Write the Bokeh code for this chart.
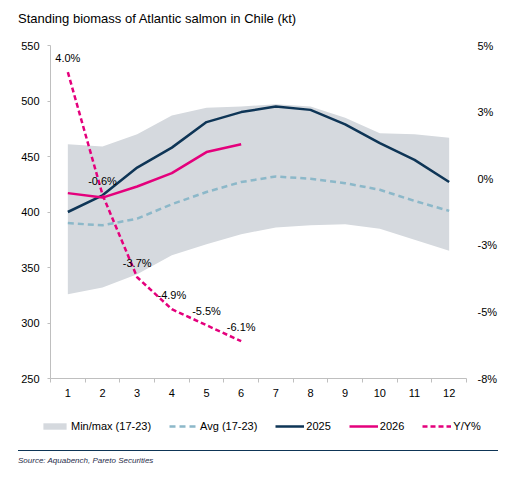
from bokeh.plotting import figure
from bokeh.models import (Range1d, LinearAxis, FixedTicker, Legend, LegendItem, Div, ColumnDataSource)
from bokeh.layouts import column
from bokeh.core.properties import value
from bokeh.embed import file_html
from bokeh.resources import INLINE

# ---- data ----
months = [1, 2, 3, 4, 5, 6, 7, 8, 9, 10, 11, 12]
band_min = [326, 332, 344, 361, 371, 380, 386, 388, 389, 385, 375, 365]
band_max = [461, 459, 470, 487, 494, 495, 497, 495, 485, 471, 470, 467]
avg_17_23 = [390, 388, 394, 407, 418, 427, 432, 430, 426, 420, 410, 401]
y2025 = [400, 415, 440, 458, 481, 490, 495, 492, 479, 462, 447, 427]
months_2026 = [1, 2, 3, 4, 5, 6]
y2026 = [417, 413, 423, 435, 454, 461]
yoy_pct = [4.0, -0.6, -3.7, -4.9, -5.5, -6.1]
left_ticks = [250, 300, 350, 400, 450, 500, 550]
right_ticks = [-7.5, -5.0, -2.5, 0.0, 2.5, 5.0]
right_tick_labels = ["-8%", "-5%", "-3%", "0%", "3%", "5%"]
series_names = ["Min/max (17-23)", "Avg (17-23)", "2025", "2026", "Y/Y%"]
title_text = "Standing biomass of Atlantic salmon in Chile (kt)"
source_text = "Source: Aquabench, Pareto Securities"

FONT = "Liberation Sans"
NAVY = "#0e3556"
PINK = "#e4007c"
LBLUE = "#8cb8c9"
BAND = "#d5d9de"
AXIS = "#bfbfbf"

title_div = Div(width=516, height=30, margin=0, text=(
    f'<div style="padding-top:12px;margin-left:18px;font-family:\'{FONT}\';'
    f'font-size:13px;line-height:1;color:#000;white-space:nowrap;">{title_text}</div>'))

p = figure(width=516, height=370, frame_width=416, frame_height=333,
           output_backend="svg", toolbar_location=None,
           x_range=Range1d(0.5, 12.5), y_range=Range1d(250, 550),
           min_border_left=50, min_border_right=50, min_border_top=15, min_border_bottom=22)
p.outline_line_color = None
p.xgrid.visible = False
p.ygrid.visible = False
p.background_fill_color = "white"

p.extra_y_ranges = {"pct": Range1d(-7.5, 5.0)}

# x axis
xa = p.xaxis[0]
xa.ticker = FixedTicker(ticks=months, minor_ticks=[m - 0.5 for m in months] + [12.5])
xa.axis_line_color = AXIS
xa.major_tick_line_color = None
xa.major_tick_out = 0
xa.major_tick_in = 0
xa.minor_tick_line_color = AXIS
xa.minor_tick_out = 4
xa.minor_tick_in = 0
xa.major_label_standoff = 6
xa.major_label_text_font = FONT
xa.major_label_text_font_size = "11px"
xa.major_label_text_color = "#000000"

# left axis
ya = p.yaxis[0]
ya.ticker = FixedTicker(ticks=left_ticks)
ya.axis_line_color = AXIS
ya.major_tick_line_color = AXIS
ya.major_tick_out = 3
ya.major_tick_in = 0
ya.minor_tick_line_color = None
ya.major_label_standoff = 8
ya.major_label_text_font = FONT
ya.major_label_text_font_size = "11px"
ya.major_label_text_color = "#000000"

# right axis
ra = LinearAxis(y_range_name="pct")
ra.ticker = FixedTicker(ticks=right_ticks)
ra.major_label_overrides = {t: l for t, l in zip(right_ticks, right_tick_labels)}
ra.axis_line_color = None
ra.major_tick_line_color = None
ra.minor_tick_line_color = None
ra.major_tick_out = 0
ra.major_tick_in = 0
ra.major_label_standoff = 11
ra.major_label_text_font = FONT
ra.major_label_text_font_size = "11px"
ra.major_label_text_color = "#000000"
p.add_layout(ra, "right")

band_style = dict(fill_color=BAND)
avg_style = dict(line_color=LBLUE, line_width=2.5, line_dash="6 4")
s25_style = dict(line_color=NAVY, line_width=2.5)
s26_style = dict(line_color=PINK, line_width=2.5)
yoy_style = dict(line_color=PINK, line_width=2.5, line_dash="5 3")

p.varea(x=months, y1=band_min, y2=band_max, **band_style)
p.line(months, avg_17_23, **avg_style)
p.line(months, y2025, **s25_style)
p.line(months_2026, y2026, **s26_style)
p.line(months_2026, yoy_pct, y_range_name="pct", **yoy_style)

lab_src = ColumnDataSource(dict(x=months_2026, y=yoy_pct, t=[f"{v:.1f}%" for v in yoy_pct]))
p.text(x="x", y="y", text="t", source=lab_src, y_range_name="pct",
       text_align="center", text_baseline="middle", y_offset=-14,
       text_font=value(FONT), text_font_size="11px", text_color="#000000")

# ---- legend strip (separate small figure; its renderers are hidden, only the key shows) ----
pl = figure(width=516, height=40, output_backend="svg", toolbar_location=None,
            x_axis_type=None, y_axis_type=None,
            x_range=Range1d(0.5, 12.5), y_range=Range1d(250, 550),
            min_border=0, min_border_left=0, min_border_right=0,
            min_border_top=0, min_border_bottom=0)
pl.frame_align = False
pl.grid.visible = False
pl.outline_line_color = None
l_band = pl.varea(x=months, y1=band_min, y2=band_max, visible=False, **band_style)
l_avg = pl.line(months, avg_17_23, visible=False, **avg_style)
l_25 = pl.line(months, y2025, visible=False, **s25_style)
l_26 = pl.line(months_2026, y2026, visible=False, **s26_style)
l_yoy = pl.line(months_2026, yoy_pct, visible=False, **yoy_style)

legend = Legend(items=[LegendItem(label=n, renderers=[r]) for n, r in
                       zip(series_names, [l_band, l_avg, l_25, l_26, l_yoy])],
                orientation="horizontal", nrows=1, location=(40, 8), padding=0, margin=0,
                spacing=18, glyph_width=29, glyph_height=8, label_standoff=2, label_height=12,
                border_line_color=None, background_fill_alpha=0, click_policy="none",
                inactive_fill_alpha=0,
                label_text_font=FONT, label_text_font_size="11px", label_text_color="#000000")
pl.add_layout(legend, "center")

src_div = Div(width=516, height=30, margin=0, text=(
    f'<div style="margin-top:10px;margin-left:18px;width:480px;border-top:1.5px solid {NAVY};'
    f'padding-top:6px;font-family:\'{FONT}\';font-style:italic;font-size:8px;'
    f'color:#1f2d4a;line-height:1;">{source_text}</div>'))

layout = column(title_div, p, pl, src_div, spacing=0)
open("out.html", "w").write(file_html(layout, INLINE))
